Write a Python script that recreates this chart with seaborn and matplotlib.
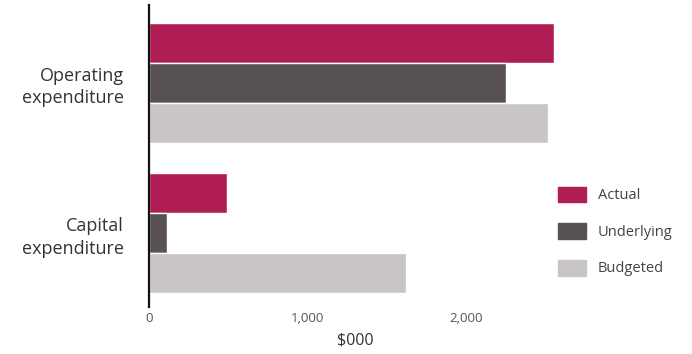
import matplotlib
matplotlib.use("Agg")
import matplotlib.pyplot as plt
import seaborn as sns
import pandas as pd

# Expenditure categories and series values ($000)
categories = ["Operating\nexpenditure", "Capital\nexpenditure"]
series = ["Actual", "Underlying", "Budgeted"]
actual = [2555, 492]
underlying = [2252, 114]
budgeted = [2517, 1621]
x_ticks = [0, 1000, 2000]
x_tick_labels = ["0", "1,000", "2,000"]

colors = ["#B01C54", "#575154", "#C9C4C5"]

df = pd.DataFrame({
    "category": categories * 3,
    "series": [s for s in series for _ in categories],
    "value": actual + underlying + budgeted,
})

sns.set_theme(style="white")
plt.rcParams["font.family"] = ["Open Sans", "DejaVu Sans"]

fig = plt.figure(figsize=(6.92, 3.54), dpi=100)
ax = fig.add_axes([0.2153, 0.133, 0.595, 0.853])

sns.barplot(data=df, y="category", x="value", hue="series",
            order=categories, hue_order=series, palette=colors,
            orient="h", width=0.8, saturation=1, ax=ax, legend=False)

ax.set_xlim(0, 2600)
ax.set_ylim(1.49, -0.52)
ax.set_xticks(x_ticks)
ax.set_xticklabels(x_tick_labels, fontsize=9.5, color="#555555")
ax.tick_params(axis="x", length=0, pad=4)
ax.tick_params(axis="y", length=0, pad=18)
for lbl in ax.get_yticklabels():
    lbl.set_fontsize(13)
    lbl.set_fontweight("medium")
    lbl.set_color("#333333")
    lbl.set_horizontalalignment("right")
    lbl.set_linespacing(1.3)
ax.set_ylabel("")
ax.set_xlabel("$000", fontsize=11.5, color="#333333", labelpad=5,
              fontweight="medium")

for side in ["top", "right", "bottom"]:
    ax.spines[side].set_visible(False)
ax.spines["left"].set_color("#111111")
ax.spines["left"].set_linewidth(1.6)
ax.grid(False)

handles = [plt.Rectangle((0, 0), 1, 1, color=c) for c in colors]
fig.legend(handles, series, loc="upper left", bbox_to_anchor=(0.788, 0.51),
           frameon=False, fontsize=10.5, labelcolor="#444444",
           handlelength=1.9, handleheight=1.3, labelspacing=1.35,
           handletextpad=0.8)

fig.savefig("out.png", dpi=100, facecolor="white")
